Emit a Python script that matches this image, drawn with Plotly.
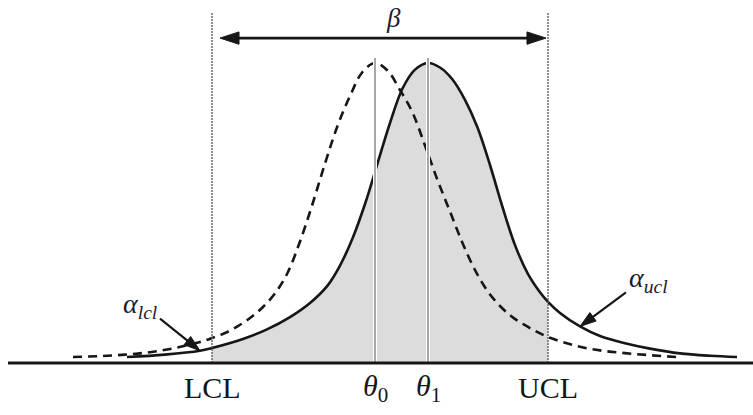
import plotly.graph_objects as go

# Reference points on the horizontal scale
theta0 = 0.0
theta1 = 1.06
lcl = -3.26
ucl = 3.46

# In-control density (centred on theta0), drawn dashed
x_in = [-6.04, -5.5, -5.0, -4.5, -4.0, -3.5, -3.25, -3.0, -2.75, -2.5, -2.25, -2.0,
        -1.75, -1.5, -1.25, -1.0, -0.75, -0.5, -0.25, 0.0, 0.25, 0.5, 0.75, 1.0,
        1.25, 1.5, 1.75, 2.0, 2.25, 2.5, 2.75, 3.0, 3.25, 3.5, 4.0, 4.5, 5.0, 5.5, 6.04]
y_in = [0.020, 0.023, 0.028, 0.036, 0.050, 0.070, 0.084, 0.100, 0.122, 0.150, 0.185,
        0.232, 0.300, 0.405, 0.530, 0.665, 0.790, 0.890, 0.970, 1.000, 0.975, 0.910,
        0.835, 0.725, 0.610, 0.505, 0.400, 0.310, 0.240, 0.190, 0.153, 0.126, 0.103,
        0.084, 0.058, 0.042, 0.033, 0.026, 0.020]

# Shifted density (centred on theta1), drawn solid
x_out = [-4.96, -4.2, -3.5, -3.26, -2.64, -2.16, -1.7, -1.3, -0.95, -0.7, -0.45, -0.2,
         0.05, 0.3, 0.55, 0.8, 1.06, 1.3, 1.55, 1.8, 2.05, 2.3, 2.55, 2.8, 3.05, 3.3,
         3.46, 3.7, 4.1, 4.5, 5.0, 5.5, 6.1, 6.7, 7.24]
y_out = [0.020, 0.028, 0.041, 0.050, 0.080, 0.112, 0.153, 0.200, 0.258, 0.325, 0.415,
         0.530, 0.665, 0.800, 0.915, 0.978, 1.000, 0.985, 0.945, 0.877, 0.785, 0.660,
         0.520, 0.393, 0.300, 0.236, 0.204, 0.167, 0.122, 0.090, 0.066, 0.048, 0.032,
         0.024, 0.020]

axis_labels = ["LCL", "<i>θ</i><sub>0</sub>", "<i>θ</i><sub>1</sub>", "UCL"]
axis_label_pos = [lcl, theta0, theta1, ucl]

INK = "#161616"
TXT = "#1c1c30"
SERIF = "Liberation Serif"
PX_X = 50.0    # pixels per x unit
PX_Y = 300.0   # pixels per y unit

fig = go.Figure()

# Beta region: area under the shifted density between the control limits
band = [(x, y) for x, y in zip(x_out, y_out) if lcl <= x <= ucl]
fig.add_trace(go.Scatter(
    x=[p[0] for p in band], y=[p[1] for p in band],
    mode="lines", line=dict(width=0, shape="spline", color="rgba(0,0,0,0)"),
    fill="tozeroy", fillcolor="#dcdcdc", hoverinfo="skip", showlegend=False))

# Vertical markers at the two means
for t in (theta0, theta1):
    fig.add_shape(type="line", x0=t, x1=t, y0=0, y1=1.017,
                  line=dict(color="white", width=4), layer="above")
    fig.add_shape(type="line", x0=t, x1=t, y0=0, y1=1.017,
                  line=dict(color="#9e9e9e", width=1.8), layer="above")

# Control limits
for c in (lcl, ucl):
    fig.add_shape(type="line", x0=c, x1=c, y0=0, y1=1.17,
                  line=dict(color="#5e5e5e", width=1.4, dash="2px,1px"), layer="above")

fig.add_trace(go.Scatter(
    x=x_in, y=y_in, mode="lines",
    line=dict(color=INK, width=2.6, dash="9px,6px", shape="spline", smoothing=1.0),
    hoverinfo="skip", showlegend=False))
fig.add_trace(go.Scatter(
    x=x_out, y=y_out, mode="lines",
    line=dict(color=INK, width=2.6, shape="spline", smoothing=1.0),
    hoverinfo="skip", showlegend=False))

# Base line
fig.add_shape(type="line", x0=-7.34, x1=7.56, y0=0, y1=0,
              line=dict(color=INK, width=3), layer="above")


def arrow(x_tip, y_tip, dx_px, dy_px, head, width, symbol="arrow"):
    """Straight pointer ending in a filled head at (x_tip, y_tip);
    the tail sits dx_px / dy_px screen pixels away from the tip."""
    x_tail = x_tip + dx_px / PX_X
    y_tail = y_tip - dy_px / PX_Y
    fig.add_trace(go.Scatter(
        x=[x_tail, x_tip], y=[y_tail, y_tip], mode="lines+markers",
        line=dict(color=INK, width=width),
        marker=dict(symbol=symbol, size=[0, head], angleref="previous",
                    color=INK, opacity=1, line=dict(width=1, color=INK)),
        hoverinfo="skip", showlegend=False))


# Beta span arrow (two heads, from the middle outwards)
mid = (lcl + ucl) / 2
y_beta = 1.083
arrow(ucl - 0.04, y_beta, -(ucl - 0.04 - mid) * PX_X, 0, 20, 2.6)
arrow(lcl + 0.16, y_beta, (mid - lcl - 0.16) * PX_X, 0, 20, 2.6)
fig.add_annotation(x=0.36, y=1.15, text="<i>β</i>", showarrow=False,
                   font=dict(family=SERIF, size=27, color=TXT))

# Tail-probability pointers
arrow(x_out[2], y_out[2], -40, -32, 17, 2.2)
fig.add_annotation(x=-4.70, y=0.193, text="<i>α</i><sub><i>lcl</i></sub>",
                   showarrow=False, font=dict(family=SERIF, size=28, color=TXT))
arrow(x_out[28], y_out[28], 46, -34, 17, 2.2)
fig.add_annotation(x=5.46, y=0.277, text="<i>α</i><sub><i>ucl</i></sub>",
                   showarrow=False, font=dict(family=SERIF, size=28, color=TXT))

# Labels under the base line
for lab, pos in zip(axis_labels, axis_label_pos):
    fig.add_annotation(x=pos, y=-0.083, text=lab, showarrow=False,
                       xanchor="center", yanchor="middle",
                       font=dict(family=SERIF, size=30, color=INK))

fig.update_xaxes(range=[-7.5, 7.56], visible=False, fixedrange=True)
fig.update_yaxes(range=[-0.1733, 1.21], visible=False, fixedrange=True)
fig.update_layout(width=753, height=415, autosize=False,
                  margin=dict(l=0, r=0, t=0, b=0),
                  paper_bgcolor="white", plot_bgcolor="white")

fig.write_html("out.html")
